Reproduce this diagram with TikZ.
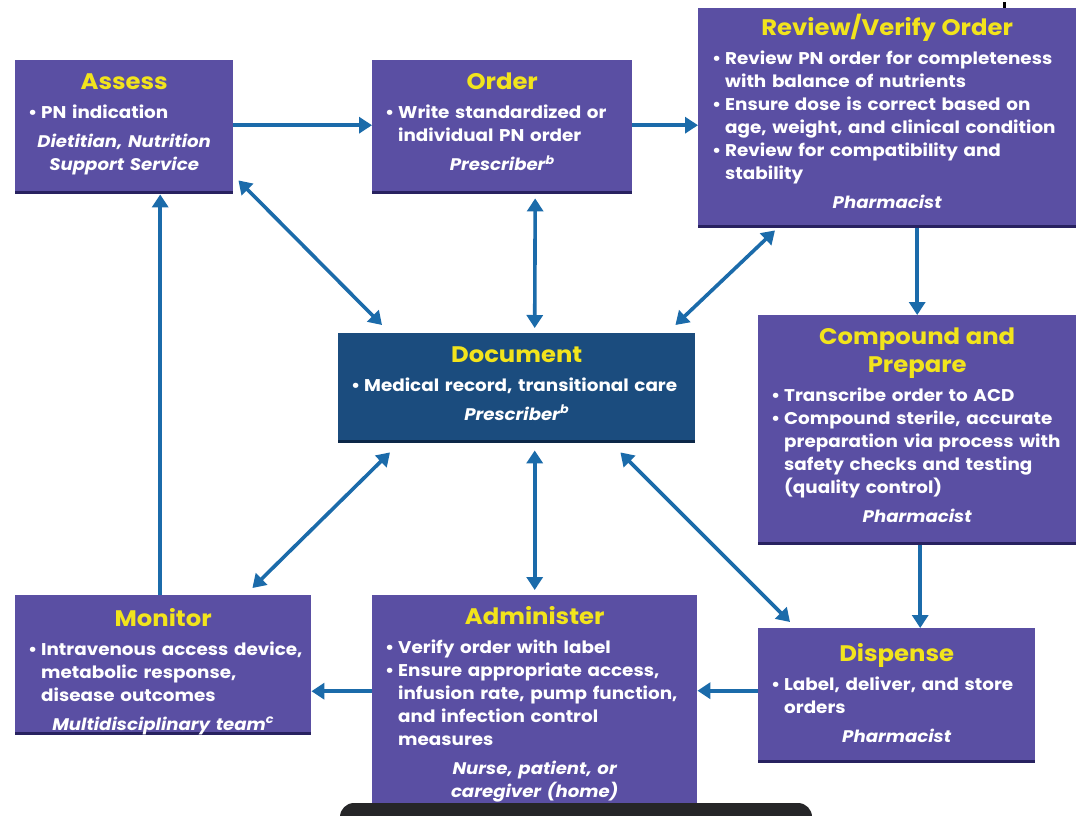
\documentclass[tikz,border=0pt]{standalone}
\usepackage{fontspec}
\setmainfont{Poppins}[FakeStretch=1.08]
\usetikzlibrary{arrows.meta,calc}

\definecolor{boxfill}{RGB}{90,79,163}
\definecolor{boxedge}{RGB}{40,34,96}
\definecolor{docfill}{RGB}{27,76,126}
\definecolor{docedge}{RGB}{12,40,72}
\definecolor{ttl}{RGB}{242,228,28}
\definecolor{arrowblue}{RGB}{27,107,170}
\definecolor{barblack}{RGB}{38,38,40}

% box contents: title, bullet items, responsible role
\newcommand\ttl[1]{{\centering\color{ttl}\fontsize{22.5}{28}\selectfont #1\par}\vspace{6pt}}
\newcommand\bul[1]{{\rightskip=-12pt plus 1fil\hangindent=13pt\hangafter=1\noindent
  \makebox[13pt][l]{\textbullet}#1\par}}
\newcommand\role[1]{\vspace{6pt}{\centering\fontsize{16.8}{23}\selectfont\itshape #1\par}}

\tikzset{
  pbox/.style={fill=boxfill, anchor=north west, inner sep=0pt,
    path picture={\fill[boxedge] (path picture bounding box.south west)
      rectangle ([yshift=3pt]path picture bounding box.south east);}},
  dbox/.style={pbox, fill=docfill,
    path picture={\fill[docedge] (path picture bounding box.south west)
      rectangle ([yshift=3pt]path picture bounding box.south east);}},
  txt/.style={anchor=north, inner sep=0pt, align=left, text=white,
    font=\fontsize{17}{23}\selectfont\bfseries},
  arr/.style={draw=arrowblue, line width=3.6pt,
    -{Triangle[length=13pt,width=16pt]}},
  darr/.style={arr, {Triangle[length=13pt,width=16pt]}-{Triangle[length=13pt,width=16pt]}}
}

\begin{document}
\begin{tikzpicture}[x=1pt,y=-1pt]
\useasboundingbox[fill=white] (0,0) rectangle (1079,815);

% process boxes
\node[pbox, minimum width=218, minimum height=134] (assess) at (15,60) {};
\node[pbox, minimum width=260, minimum height=134] (order) at (372,60) {};
\node[pbox, minimum width=378, minimum height=220] (review) at (698,8) {};
\node[dbox, minimum width=357, minimum height=110] (document) at (338,333) {};
\node[pbox, minimum width=318, minimum height=230] (compound) at (758,315) {};
\node[pbox, minimum width=296, minimum height=140] (monitor) at (15,595) {};
\node[pbox, minimum width=325, minimum height=212] (administer) at (372,595) {};
\node[pbox, minimum width=277, minimum height=135] (dispense) at (758,628) {};

% box texts
\node[txt, text width=192] (assess-t) at ([yshift=-13]assess.north) {%
  \ttl{Assess}\bul{PN indication}\role{Dietitian, Nutrition\par Support Service}};
\node[txt, text width=234] (order-t) at ([yshift=-13]order.north) {%
  \ttl{Order}\bul{Write standardized or\newline individual PN order}\role{Prescriber\textsuperscript{b}}};
\node[txt, text width=350] (review-t) at ([yshift=-6]review.north) {%
  \ttl{Review/Verify Order}%
  \bul{Review PN order for completeness\newline with balance of nutrients}%
  \bul{Ensure dose is correct based on\newline age, weight, and clinical condition}%
  \bul{Review for compatibility and\newline stability}%
  \role{Pharmacist}};
\node[txt, text width=331] (document-t) at ([yshift=-13]document.north) {%
  \ttl{Document}\bul{Medical record, transitional care}\role{Prescriber\textsuperscript{b}}};
\node[txt, text width=292] (compound-t) at ([yshift=-13]compound.north) {%
  \ttl{Compound and\par Prepare}%
  \bul{Transcribe order to ACD}%
  \bul{Compound sterile, accurate\newline preparation via process with\newline safety checks and testing\newline (quality control)}%
  \role{Pharmacist}};
\node[txt, text width=270] (monitor-t) at ([yshift=-13]monitor.north) {%
  \ttl{Monitor}%
  \bul{Intravenous access device,\newline metabolic response,\newline disease outcomes}%
  \role{Multidisciplinary team\textsuperscript{c}}};
\node[txt, text width=299] (administer-t) at ([yshift=-11]administer.north) {%
  \ttl{Administer}%
  \bul{Verify order with label}%
  \bul{Ensure appropriate access,\newline infusion rate, pump function,\newline and infection control\newline measures}%
  \role{Nurse, patient, or\par caregiver (home)}};
\node[txt, text width=251] (dispense-t) at ([yshift=-15]dispense.north) {%
  \ttl{Dispense}\bul{Label, deliver, and store\newline orders}\role{Pharmacist}};

% main flow
\draw[arr] ([yshift=2]assess.east) -- ([yshift=2]assess.east -| order.west);
\draw[arr] ([yshift=2]order.east) -- ([yshift=2]order.east -| review.west);
\draw[arr] (review.south -| compound.north) -- (compound.north);
\draw[arr] ([xshift=3]compound.south) -- ([xshift=3]compound.south |- dispense.north);
\draw[arr] ([yshift=5]dispense.west) -- ([yshift=5]dispense.west -| administer.east);
\draw[arr] ([yshift=10]administer.west) -- ([yshift=10]administer.west -| monitor.east);
\draw[arr] ([xshift=-3]monitor.north) -- ([xshift=-3]monitor.north |- assess.south);

% links with the documentation step
\draw[darr] ($(assess.south east)+(5,-14)$) -- ($(document.north west)+(44,-8)$);
\draw[darr] ($(order.south)+(33,4)$) -- ($(document.north)+(18,-5)$);
\draw[darr] ($(review.south west)+(77,2)$) -- ($(document.north east)+(-20,-8)$);
\draw[darr] ($(document.south west)+(52,9)$) -- ($(monitor.north east)+(-59,-7)$);
\draw[darr] ($(document.south)+(18,7)$) -- ($(administer.north)+(0,-5)$);
\draw[darr] ($(document.south east)+(-75,9)$) -- ($(dispense.north west)+(32,-6)$);

% dark bar along the lower edge and small tick at the top
\begin{scope}
  \clip (0,0) rectangle (1079,815);
  \fill[barblack, rounded corners=14] (340,803) rectangle (812,840);
  \fill[black] (1003,2) rectangle (1006,8);
\end{scope}
\end{tikzpicture}
\end{document}
